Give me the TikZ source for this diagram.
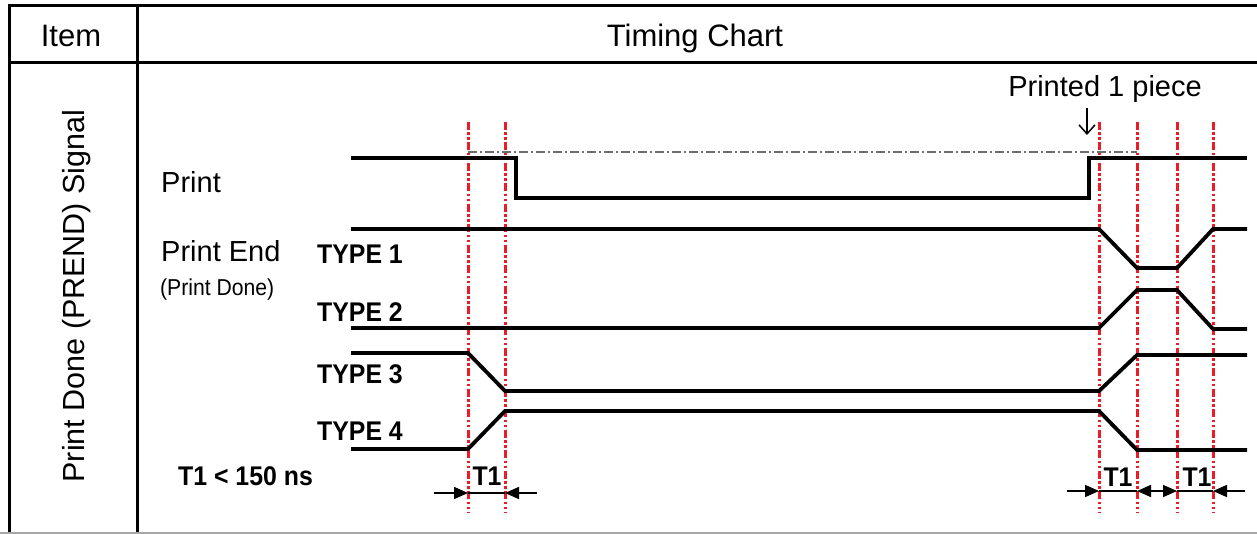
\documentclass[tikz,border=0pt]{standalone}
\usepackage{fontspec}
\setmainfont{Liberation Sans}
\newfontfamily\nbfont[FakeStretch=0.92]{Liberation Sans}
\usetikzlibrary{arrows.meta}
\definecolor{redline}{RGB}{237,28,36}
\definecolor{refgray}{RGB}{110,110,110}
\begin{document}
\begin{tikzpicture}[x=1pt,y=-1pt,
  frame/.style={line width=3pt},
  sig/.style={line width=3.8pt},
  guide/.style={draw=redline, line width=3pt, dash pattern=on 8pt off 2.5pt on 2.5pt off 2.5pt on 2.5pt off 2.5pt},
  refline/.style={draw=refgray, line width=1.4pt, dash pattern=on 9pt off 3pt on 2pt off 3pt},
  dim/.style={line width=1.6pt},
  tipend/.style={-{Triangle[length=14pt,width=12pt]}},
  tipboth/.style={{Triangle[length=14pt,width=12pt]}-{Triangle[length=14pt,width=12pt]}},
  lbl/.style={inner sep=0pt, anchor=base west, font=\fontsize{29}{32}\selectfont},
  head/.style={inner sep=0pt, anchor=base, font=\fontsize{31}{34}\selectfont},
  typ/.style={inner sep=0pt, anchor=base west, font=\nbfont\bfseries\fontsize{27}{29}\selectfont},
  tlbl/.style={inner sep=0pt, anchor=base, font=\nbfont\bfseries\fontsize{27}{29}\selectfont},
]
\useasboundingbox (0,0) rectangle (1257,534);
% table frame
\draw[frame] (1257,6) -- (9,6) -- (9,533);
\draw[frame] (9,63) -- (1257,63);
\draw[frame] (137,6) -- (137,533);
\draw[line width=1.5pt, draw=gray!70] (0,533) -- (1257,533);
% headers
\node[head] (item) at (71,47) {Item};
\node[head] (chart) at (695,47) {Timing Chart};
\node[inner sep=0pt, anchor=base, rotate=90, font=\fontsize{30.5}{33}\selectfont] (signame) at (84,296) {Print Done (PREND) Signal};
% labels
\node[lbl] (print) at (161,193) {Print};
\node[lbl] (pend) at (161,262) {Print End};
\node[inner sep=0pt, anchor=base west, font=\nbfont\fontsize{23}{25}\selectfont] (pdone) at (160,295) {(Print Done)};
\node[typ] (t1) at (317,264) {TYPE 1};
\node[typ] (t2) at (317,322) {TYPE 2};
\node[typ] (t3) at (317,383) {TYPE 3};
\node[typ] (t4) at (317,440) {TYPE 4};
\node[typ] (spec) at (178,485) {T1 < 150 ns};
\node[inner sep=0pt, anchor=base, font=\fontsize{29}{32}\selectfont] (piece) at (1105,97) {Printed 1 piece};
\coordinate (pa) at (1087,108);
\coordinate (pb) at (1087,135);
\draw[line width=1.5pt, -{Straight Barb[length=9pt,width=16pt]}] (pa) -- (pb);
% guide lines
\foreach \n/\x in {a/468,b/505,c/1099,d/1137,e/1177,f/1213}{
  \coordinate (\n t) at (\x,122);
  \coordinate (\n b) at (\x,512);
  \draw[guide] (\n t) -- (\n b);
}
% reference dash-dot
\coordinate (r1) at (468,152);
\coordinate (r2) at (1137,152);
\draw[refline] (r1) -- (r2);
% signals
\draw[sig] (351,158) -- (516,158) -- (516,198) -- (1089,198) -- (1089,158) -- (1247,158);
\draw[sig] (351,229) -- (1099,229) -- (1137,268) -- (1177,268) -- (1213,229) -- (1247,229);
\draw[sig] (351,328) -- (1099,328) -- (1137,290) -- (1177,290) -- (1213,329) -- (1247,329);
\draw[sig] (351,353) -- (468,353) -- (505,391) -- (1099,391) -- (1137,355) -- (1247,355);
\draw[sig] (351,449) -- (468,449) -- (505,411) -- (1099,411) -- (1137,450) -- (1247,450);
% dimension arrows left
\coordinate (la0) at (434,493);
\coordinate (la1) at (468,493);
\coordinate (la2) at (505,493);
\coordinate (la3) at (537,493);
\draw[dim,tipend] (la0) -- (la1);
\draw[dim] (la1) -- (la2);
\draw[dim,tipend] (la3) -- (la2);
\node[tlbl] (lt1) at (487,485) {T1};
% dimension arrows right
\coordinate (ra0) at (1067,491);
\coordinate (ra1) at (1099,491);
\coordinate (ra2) at (1137,491);
\coordinate (ra3) at (1177,491);
\coordinate (ra4) at (1213,491);
\coordinate (ra5) at (1245,491);
\draw[dim,tipend] (ra0) -- (ra1);
\draw[dim] (ra1) -- (ra2);
\draw[dim,tipboth] (ra2) -- (ra3);
\draw[dim] (ra3) -- (ra4);
\draw[dim,tipend] (ra5) -- (ra4);
\node[tlbl] (rt1) at (1118,486) {T1};
\node[tlbl] (rt2) at (1197,486) {T1};
\end{tikzpicture}
\end{document}
